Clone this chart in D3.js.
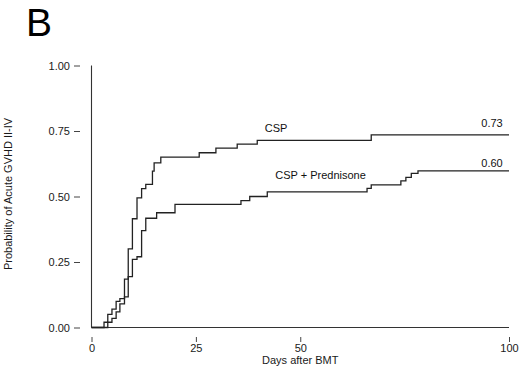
<!DOCTYPE html>
<html>
<head>
<meta charset="utf-8">
<script src="https://cdn.jsdelivr.net/npm/d3@7"></script>
<style>
    body { margin: 0; background: #fff; }
    svg { display: block; font-family: "Liberation Sans", Arial, sans-serif; }
    .axis text { font-size: 11px; fill: #1a1a1a; }
    .axis line { stroke: #444; }
</style>
</head>
<body>
<div id="chart"></div>
<script>
// step points (days after BMT, cumulative probability)
const cspDays = [0, 3.0, 3.9, 4.9, 5.9, 6.8, 7.9, 8.8, 9.8, 10.9, 12.0, 13.0, 14.6, 15.0, 16.6, 25.8, 29.8, 34.9, 39.7, 67.0, 100];
const cspProb = [0, 0.02, 0.05, 0.07, 0.10, 0.11, 0.185, 0.30, 0.415, 0.495, 0.53, 0.546, 0.597, 0.628, 0.65, 0.667, 0.685, 0.70, 0.714, 0.735, 0.735];

const predDays = [0, 3.9, 4.9, 5.9, 6.8, 7.9, 8.8, 9.8, 10.9, 12.0, 13.0, 15.6, 20.0, 35.8, 37.9, 42.1, 66.0, 67.0, 74.1, 75.3, 76.6, 78.2, 100];
const predProb = [0, 0.02, 0.035, 0.06, 0.09, 0.117, 0.194, 0.26, 0.27, 0.37, 0.417, 0.438, 0.47, 0.484, 0.50, 0.518, 0.531, 0.544, 0.56, 0.573, 0.588, 0.598, 0.598];

const xTicks = [0, 25, 50, 100];
const yTicks = [0, 0.25, 0.5, 0.75, 1];

const labels = [
    {text: "CSP", day: 41.5, prob: 0.745, anchor: "start"},
    {text: "0.73", day: 98.5, prob: 0.765, anchor: "end"},
    {text: "CSP + Prednisone", day: 44, prob: 0.565, anchor: "start"},
    {text: "0.60", day: 98.5, prob: 0.612, anchor: "end"}
];

const width = 520, height = 367;

const svg = d3.select("#chart").append("svg")
    .attr("width", width)
    .attr("height", height);

const x = d3.scaleLinear().domain([0, 100]).range([91.5, 509]);
const y = d3.scaleLinear().domain([0, 1]).range([327.5, 65.5]);

// panel letter
svg.append("text")
    .attr("x", 26)
    .attr("y", 36)
    .attr("font-size", "39px")
    .attr("fill", "#000")
    .text("B");

// y axis ticks sit away from the axis line
const yAxis = d3.axisLeft(y).tickValues(yTicks).tickFormat(d3.format(".2f")).tickSize(6).tickPadding(4);
svg.append("g")
    .attr("class", "axis")
    .attr("transform", "translate(80,0)")
    .call(yAxis)
    .call(g => g.select(".domain").remove());

const xAxis = d3.axisBottom(x).tickValues(xTicks).tickFormat(d3.format("d")).tickSize(5).tickPadding(2);
svg.append("g")
    .attr("class", "axis")
    .attr("transform", "translate(0,337)")
    .call(xAxis)
    .call(g => g.select(".domain").remove());

// axis lines
svg.append("line")
    .attr("x1", x(0)).attr("x2", x(0))
    .attr("y1", y(1)).attr("y2", y(0))
    .attr("stroke", "#333").attr("stroke-width", 1.1);
svg.append("line")
    .attr("x1", x(0)).attr("x2", x(100))
    .attr("y1", y(0)).attr("y2", y(0))
    .attr("stroke", "#333").attr("stroke-width", 1.1);

// axis titles
svg.append("text")
    .attr("transform", "translate(12,194) rotate(-90)")
    .attr("text-anchor", "middle")
    .attr("font-size", "11px")
    .attr("fill", "#1a1a1a")
    .text("Probability of Acute GVHD II-IV");

svg.append("text")
    .attr("x", x(50))
    .attr("y", 364)
    .attr("text-anchor", "middle")
    .attr("font-size", "11px")
    .attr("fill", "#1a1a1a")
    .text("Days after BMT");

// step curves
const line = d3.line()
    .x(d => x(d[0]))
    .y(d => y(d[1]))
    .curve(d3.curveStepAfter);

svg.append("path")
    .datum(d3.zip(cspDays, cspProb))
    .attr("fill", "none")
    .attr("stroke", "#222")
    .attr("stroke-width", 1.3)
    .attr("d", line);

svg.append("path")
    .datum(d3.zip(predDays, predProb))
    .attr("fill", "none")
    .attr("stroke", "#222")
    .attr("stroke-width", 1.3)
    .attr("d", line);

// curve labels
svg.selectAll(".curve-label")
    .data(labels)
    .enter().append("text")
    .attr("class", "curve-label")
    .attr("x", d => x(d.day))
    .attr("y", d => y(d.prob))
    .attr("text-anchor", d => d.anchor)
    .attr("font-size", "11px")
    .attr("fill", "#111")
    .text(d => d.text);
</script>
</body>
</html>
